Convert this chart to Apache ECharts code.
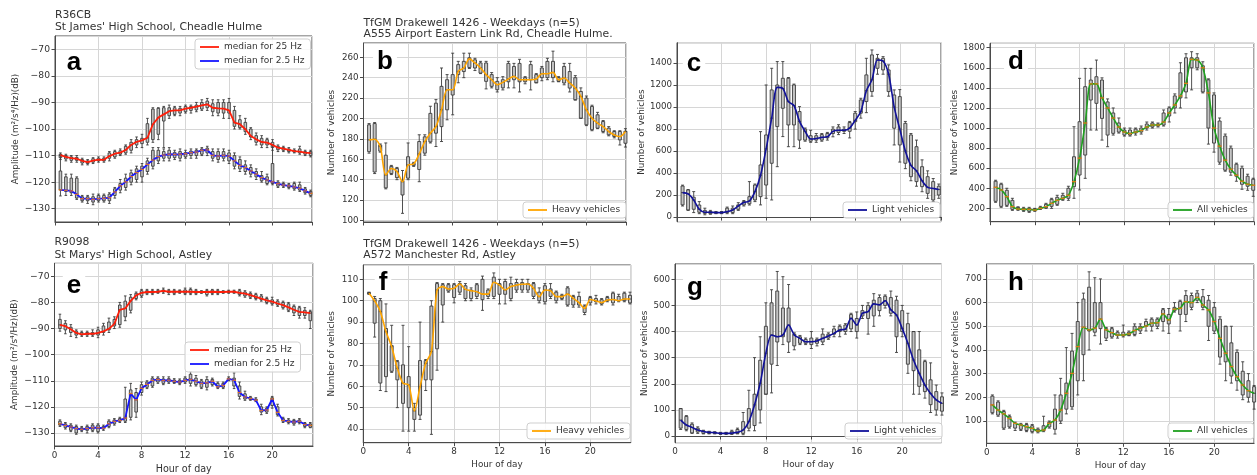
<!DOCTYPE html>
<html><head><meta charset="utf-8">
<script src="https://cdn.jsdelivr.net/npm/echarts@6/dist/echarts.min.js"></script>
<style>html,body{margin:0;padding:0;background:#fff}#c{width:1257px;height:475px}</style>
</head><body><div id="c"></div>
<script>
// ---------- DATA (box stats per half hour: [lower whisker, Q1, median, Q3, upper whisker]) ----------
const hours = [0.5,1,1.5,2,2.5,3,3.5,4,4.5,5,5.5,6,6.5,7,7.5,8,8.5,9,9.5,10,10.5,11,11.5,12,12.5,13,13.5,14,14.5,15,15.5,16,16.5,17,17.5,18,18.5,19,19.5,20,20.5,21,21.5,22,22.5,23,23.5];
const xTicks = [0,4,8,12,16,20];

const a25 = [[-111.5,-110.8,-109.8,-109.5,-109],[-112,-111.3,-110.5,-110,-109.5],[-112.5,-111.8,-111,-110.5,-110],[-112.5,-111.8,-111.2,-110.7,-110],[-113.5,-112.8,-112,-111.5,-111],[-113.5,-113,-112.5,-112,-111.5],[-113,-112.5,-111.9,-111.2,-110.8],[-112.5,-112,-111.5,-111,-110.5],[-112.5,-112,-111.6,-111,-110.5],[-112,-111,-110.2,-109,-108.5],[-111,-110.5,-109.3,-108.5,-108],[-110,-109.5,-108.9,-108.2,-107.5],[-109.5,-109,-107.9,-106.5,-106],[-109,-108,-106,-105,-104],[-107,-106,-104.8,-104,-103],[-107,-105.5,-104.3,-103.5,-102],[-106,-105,-103.3,-98,-96],[-105,-104,-98.2,-92.5,-92],[-104,-102,-95.7,-92.2,-92],[-107,-97,-94.5,-92,-91.5],[-96,-95,-93.3,-92,-91],[-95,-94.5,-93,-92,-91.5],[-95,-94,-93,-92.2,-91.5],[-94,-93.5,-92.3,-91.5,-91],[-94,-93,-92,-91.5,-91],[-93.5,-92.8,-91.6,-91,-90],[-93,-92.5,-91.1,-90,-89],[-93,-92,-90.7,-89.5,-88.5],[-95,-93.5,-92,-90.5,-89],[-95,-94,-92.2,-90,-89],[-96,-94,-92.3,-90,-89],[-96,-94,-93,-90,-88.5],[-100,-99,-97.6,-93,-91.5],[-100,-99.5,-98.2,-96.5,-95],[-102,-101,-100.1,-97.5,-96],[-104,-103,-102.6,-100,-99.5],[-106,-105,-103.9,-102.5,-101.5],[-107,-106,-104.9,-103.5,-102.5],[-107,-106,-105.1,-104,-103.5],[-108,-107,-106,-105,-104],[-108.5,-107.8,-107,-106.5,-106],[-108.5,-108,-107.4,-107,-106.5],[-109,-108.5,-107.9,-107.5,-107],[-109,-108.7,-108.3,-108,-107.5],[-109.5,-109,-108.5,-107.5,-106.5],[-110,-109.5,-108.9,-108.5,-108],[-110.5,-110,-109.1,-108.5,-108]];
const a2_5 = [[-125.2,-122.9,-122.9,-115.8,-110],[-125,-123.5,-123.1,-118,-117],[-125,-124,-123.3,-118.5,-117],[-126.5,-126,-124.6,-118.5,-118],[-127.5,-127,-126.2,-125.5,-125],[-128,-127,-126.2,-125.5,-125],[-128.5,-127.5,-126.5,-125.5,-124.5],[-127.5,-127,-126.2,-125,-124.5],[-127.5,-127,-126.1,-125,-124.5],[-128,-127,-125.8,-124.5,-124],[-126,-125,-123.7,-122.5,-122],[-124,-123,-121.4,-120.5,-119],[-123,-122,-119.9,-118.5,-117],[-121,-120,-117.9,-116.5,-115.5],[-120,-119,-116.4,-115,-114],[-120,-118,-115.2,-114,-113],[-117,-116,-113.3,-112,-111],[-115,-114,-111.7,-108,-107],[-113,-112,-110.4,-108,-107],[-112,-111,-109.8,-108.5,-107.5],[-112,-111,-109.5,-108,-107],[-111.5,-110.8,-109.6,-108.8,-108],[-112,-111,-109.5,-108.5,-107.5],[-111,-110.5,-109.3,-108.8,-108],[-111,-110,-108.9,-108.3,-107.5],[-111,-110,-108.7,-108,-107.5],[-110,-109.5,-108,-107.5,-107],[-110,-109,-107.9,-107.2,-106.5],[-112,-111,-109.9,-108.5,-107.5],[-112.5,-111.5,-110.2,-108.5,-107.5],[-112,-111,-109.9,-108.5,-107.5],[-113,-112,-110.2,-109,-108],[-115,-114,-112,-110,-109],[-116,-115,-113.7,-111.5,-110.5],[-117,-116,-114.5,-113.5,-112],[-118,-117,-115.8,-114.5,-113.5],[-119,-118,-117,-116,-115],[-120,-119.5,-118.3,-117.5,-116],[-121,-120.5,-119.2,-118,-117],[-121,-120.5,-119.9,-113,-106],[-122,-121.5,-120.6,-120,-119.5],[-122,-121.5,-121.1,-120.5,-120],[-122.5,-122,-121.4,-121,-120.5],[-123,-122.5,-121.8,-120.5,-120],[-123.5,-123,-122.3,-121,-120],[-124.5,-124,-123.3,-122.5,-122],[-125.5,-125,-124.2,-123.5,-123]];
const e25 = [[-91,-90,-88.6,-86.5,-84.5],[-92,-90.5,-89.1,-88,-87],[-93,-91.5,-90.3,-89.5,-88.5],[-93.5,-92.5,-91.7,-91,-90.5],[-93,-92.5,-92.2,-91.5,-91],[-93,-92.5,-92,-91.5,-91],[-93,-92.5,-92,-91.5,-90.5],[-93.5,-92.5,-91.7,-90.5,-89.5],[-92.5,-91.5,-91.1,-89,-88],[-91.5,-90.5,-90.1,-87.5,-86],[-90,-89,-88.2,-86.5,-85.5],[-89.5,-88.5,-82.8,-81,-80],[-87,-85.5,-82.3,-79.5,-77.5],[-84,-83,-79.4,-78,-77],[-79,-78.5,-77.3,-76.5,-76],[-78,-77.5,-76.3,-75.5,-75],[-77,-76.5,-76,-75.5,-75],[-77,-76.5,-76,-75.5,-75],[-76.5,-76.2,-75.9,-75.5,-75],[-76.5,-76,-75.6,-75.2,-74.5],[-77,-76.3,-75.9,-75.5,-75],[-77,-76.5,-75.9,-75.5,-75],[-76.5,-76.2,-75.9,-75.5,-75.2],[-77,-76.5,-75.9,-75.2,-74.5],[-77,-76.5,-75.9,-75,-74.5],[-77,-76.5,-76,-75.5,-75],[-76.5,-76.3,-76,-75.7,-75.5],[-77.5,-77,-76,-75.5,-75],[-77,-76.5,-75.9,-75.3,-75],[-77,-76.5,-76,-75.5,-75],[-76.5,-76.3,-76,-75.7,-75.5],[-76.5,-76.2,-75.9,-75.6,-75.3],[-76.5,-76.2,-75.9,-75.6,-75.3],[-77.5,-77,-76.3,-75.5,-75],[-78,-77.5,-76.6,-76,-75.5],[-78.5,-78,-77.2,-76.5,-76],[-79,-78.5,-77.9,-77,-76.5],[-79.5,-79,-78.5,-77.5,-77],[-80.5,-80,-79.2,-78.5,-78],[-81,-80.5,-79.7,-79,-78],[-81.5,-81,-80.4,-79.5,-79],[-82.5,-82,-81,-80,-79.5],[-83.5,-83,-81.9,-80.5,-80],[-85,-84,-82.8,-81.5,-81],[-86,-85,-83.6,-82,-81.5],[-86,-85,-83.8,-83,-82],[-90,-87,-84.1,-83.5,-83]];
const e2_5 = [[-127.5,-127,-126.5,-125.5,-125],[-128.5,-128,-127.1,-126.5,-126],[-129.5,-129,-127.7,-127,-126.5],[-130.5,-130,-128.3,-127.5,-127],[-129.5,-129,-128.6,-128,-127.5],[-130,-129,-128.3,-127.5,-127],[-129.5,-129,-128,-127,-126.5],[-130,-129.5,-128,-127,-126.5],[-129,-128.5,-128.2,-127.5,-127],[-128,-127.5,-126.5,-125.5,-125],[-127,-126.5,-125.6,-125,-124.5],[-126,-125.5,-125.2,-124.5,-124],[-126,-125.5,-124.3,-117,-112.5],[-125,-124,-114.9,-113.5,-111],[-124,-122,-117.3,-114.5,-113],[-115.5,-114.5,-112.9,-111.5,-110.5],[-113,-112.5,-111.4,-110.5,-110],[-112.5,-112,-109.9,-109,-108.5],[-111,-110.5,-109.5,-109,-108.5],[-111.5,-111,-109.9,-109.3,-108.5],[-111,-110.5,-109.8,-109.2,-108.5],[-111,-110.7,-110.2,-109.7,-109.2],[-111.5,-111,-110.5,-109.8,-109.3],[-111,-110.5,-109.9,-109,-108.5],[-112,-111,-109.5,-107.5,-106.5],[-112,-111.5,-110.2,-109,-108],[-113,-112.5,-111,-110,-109.5],[-113.5,-112.5,-110.8,-109.5,-108.5],[-112,-111.5,-110.2,-109.5,-109],[-113,-112.5,-112.3,-111,-110.5],[-113,-112.5,-111.8,-111,-110.5],[-110,-109.8,-109.3,-109,-108.5],[-113,-112,-109.8,-109,-107],[-117,-116,-114.5,-112,-110.5],[-117.5,-117,-116.2,-115,-114],[-117.5,-117.2,-116.8,-116.3,-116],[-118,-117.7,-117.4,-117,-116.5],[-123,-122,-121.4,-120,-119],[-122.5,-122,-121.2,-120.5,-120],[-120.5,-119.5,-117,-116.5,-116],[-123.5,-123,-122.1,-120,-119],[-126,-125.5,-125.2,-124.5,-124],[-126.5,-126,-125.6,-125,-124.5],[-127,-126.5,-125.8,-125.2,-124.8],[-126.5,-126,-125.5,-125,-124.5],[-128,-127.5,-126.8,-126.3,-126],[-128,-127.8,-127.1,-126.5,-126]];
const bHeavy = [[166,167.5,179,193.8,195],[146,147.5,179.7,195,196],[167,168,172.5,174,175],[131,132,144.6,164,176],[145,146,151,153,154],[140,142,148,151,152],[107,125,138,139,149],[140,141.5,154.4,162.5,176],[153,154,155.4,156,157],[138,150,165.2,177.4,184],[164,166,177.4,182,184],[176,177,185.6,205,212],[172.5,185.6,192.1,215,218.5],[177.4,192,208.5,231.5,249.5],[198.7,208.5,228.2,238,243],[203.6,223,228.2,243,264],[235,243,246.2,252.8,256],[240,246,249.5,256,264],[249,250,258.4,259.5,264],[247,249.5,254.4,257.5,259],[244,244.5,249.5,254.5,256],[229,236.4,243,254.4,256],[230,231.5,238,243,245],[226,228.2,233.1,236.4,240],[228,230,235.4,238,241],[230,236,238.7,254,256],[230,238,241.3,251,254],[226,236,238,254,258],[234,236,238,240,241],[228,238,238,252.8,256],[235,235,238.7,243,244],[237,240,243.9,249.5,251],[238,240,243.9,256,259],[236,240,245.2,256,266],[236,236.4,238,240,241],[233,234.8,239.7,251,254],[226,229.8,234.8,246,254],[218,218.4,229.8,240,242],[200,200.3,221.6,226.5,230],[193,193.8,208.5,220,222],[188,189,200.3,211.8,213],[190,190.5,195.4,203.6,206],[186,187.2,192.1,197,198],[183,184,187.2,190.5,192],[181,182.3,183.9,187.2,188],[174,179,182.3,187.2,188],[172,175.7,187.2,187.5,190]];
const cLight = [[100,110,222,282,290],[60,64,210,246,250],[40,70,155,180,231],[30,43,70,109,140],[20,33,43,60,80],[25,30,43,50,60],[30,35,40,45,50],[30,35,40,45,50],[30,40,49,80,90],[30,40,64,80,100],[60,70,100,110,130],[100,110,131,140,150],[109,120,146,185,322],[140,155,231,291,300],[110,185,380,474,777],[170,291,620,747,1202],[155,489,900,1157,1354],[458,823,1180,1202,1415],[732,990,1170,1263,1415],[640,838,1050,1263,1270],[640,838,1015,1202,1210],[625,700,870,960,1005],[690,700,780,800,810],[680,690,710,740,790],[680,700,715,740,760],[690,700,725,750,760],[700,720,730,760,770],[730,760,780,800,820],[750,770,790,820,840],[760,780,790,800,820],[720,780,810,860,870],[800,868,880,945,960],[900,945,960,1066,1081],[950,1051,1150,1294,1445],[1100,1142,1250,1476,1521],[1300,1354,1430,1445,1480],[1300,1339,1420,1445,1460],[1100,1142,1300,1339,1385],[656,808,1000,1111,1157],[500,656,800,1096,1160],[440,489,600,853,870],[330,367,470,747,760],[280,322,420,640,700],[230,276,330,458,520],[170,215,270,367,420],[140,155,260,322,350],[170,200,250,280,300]];
const dAll = [[260,270,409,470,480],[210,220,383,440,450],[220,230,316,380,400],[180,190,217,280,300],[180,190,193,210,215],[170,180,190,200,210],[160,170,190,200,210],[170,180,183,195,200],[190,195,200,210,220],[200,205,217,240,250],[200,220,250,290,300],[230,240,280,310,330],[280,290,300,330,350],[280,300,330,400,420],[300,416,466,714,1013],[383,532,700,1063,1495],[499,731,1050,1412,1594],[980,1279,1440,1478,1594],[980,1246,1440,1511,1677],[880,1096,1300,1478,1500],[814,930,1200,1260,1290],[930,947,1100,1150,1200],[950,960,1010,1050,1100],[920,930,960,980,1000],[920,930,945,980,1000],[930,950,960,990,1000],[940,960,975,1000,1020],[980,1000,1010,1040,1060],[1000,1010,1030,1050,1060],[1010,1020,1030,1040,1050],[1020,1030,1060,1150,1180],[1060,1120,1150,1200,1210],[1150,1200,1230,1320,1340],[1200,1300,1320,1550,1650],[1300,1360,1445,1700,1740],[1380,1600,1684,1700,1760],[1580,1600,1677,1700,1740],[1350,1360,1600,1620,1660],[840,1000,1350,1480,1490],[760,850,1000,1330,1350],[640,660,820,1070,1100],[570,580,680,920,940],[530,560,590,800,820],[470,520,530,640,650],[390,440,470,600,620],[380,420,440,520,540],[320,380,430,490,500]];
const fHeavy = [[103,103.2,103.5,103.8,104],[83,89.5,99.9,101,102],[58,61.5,94.9,100,101],[57.5,64.5,85.5,87,98.5],[66.5,67,78.5,79,88.5],[50,63,68.4,71.5,72],[39,52,61.4,70,88.5],[39,50,60.6,64.5,78.5],[39,44.5,48.5,50,52],[44.5,46.5,59.8,72,90],[58,63,70.7,72,72.5],[37.5,63,76.2,97.5,100],[67.5,77.5,105,108,108.5],[90,98,106.6,107.5,108],[104,104.5,105.5,107.5,108],[99,101.5,105.8,107.5,108],[103,104,107.8,108,109],[100,101,105.3,107,108],[100,101,104.7,105,106],[101,102,104.2,107.5,108],[95.5,100.5,103.1,110,111.5],[101,102,103.1,105,105.5],[101,102,108.6,111,113],[98.5,103,107.3,108,110],[98.5,103,105,109,110],[100,101,106.6,108,111],[104,105,107.3,108.5,110],[104,105,107.7,108.5,110],[104,105,107.8,108,110],[101,102,105.8,108,108.5],[99,100,101.9,104,106],[98.5,99.5,105,107,108],[101,102,104.7,105.5,108],[99,100,101.9,104,104.5],[100.5,101,101.9,102.5,103],[97.5,98,103.1,106,106.5],[97,98,101.1,102,102.5],[97,98,99.1,102,104],[93.5,94.5,96.4,97.5,98],[98,99,100.6,101.5,102],[98.5,99.5,99.9,101,102.5],[98,98.5,99.1,100.5,101],[99.5,100,100.3,101.5,102],[98,99,100.6,103.5,104],[99.5,100,100,102,103],[99.5,100,100.8,103.5,104],[98.5,99,100.8,102.5,104]];
const gLight = [[25,30,61,105,105],[20,25,42,75,78],[10,12,33,45,50],[10,15,23,30,35],[8,10,17,20,22],[8,10,14,16,18],[8,10,13,15,16],[6,8,10,12,14],[6,8,10,12,14],[6,8,11,18,22],[8,10,14,25,30],[5,10,23,55,90],[20,30,55,105,175],[20,40,119,160,300],[50,100,202,290,380],[160,160,317,420,510],[165,275,387,510,560],[270,360,380,555,630],[350,380,387,490,610],[320,360,425,490,580],[330,345,387,390,395],[350,355,374,380,385],[350,355,361,370,375],[335,350,361,375,400],[345,355,364,370,375],[350,360,374,390,410],[370,375,383,390,395],[380,390,393,410,420],[380,400,406,420,425],[390,400,409,425,430],[400,410,451,465,470],[375,400,425,450,475],[450,460,470,480,500],[390,450,476,500,510],[420,460,506,520,545],[460,480,502,530,540],[490,500,518,535,540],[460,470,483,530,555],[320,380,463,520,535],[380,400,412,480,500],[240,275,355,430,470],[160,250,291,400,400],[160,190,240,330,400],[145,170,195,285,290],[90,120,163,215,280],[80,100,138,170,195],[80,95,125,150,165]];
const hAll = [[130,135,168,205,210],[120,125,146,180,185],[65,70,130,140,145],[70,75,111,120,125],[60,70,90,90,95],[60,65,83,85,90],[55,60,76,85,90],[50,55,69,80,85],[50,55,58,65,70],[55,60,62,80,120],[70,75,90,95,100],[45,65,104,150,210],[90,100,146,210,280],[130,150,217,260,410],[150,160,301,395,470],[210,270,414,520,600],[270,380,496,615,640],[400,480,485,665,730],[460,475,492,600,705],[425,490,530,600,700],[440,450,485,490,495],[450,455,473,490,495],[450,460,463,475,480],[455,460,463,475,505],[460,462,468,475,480],[460,465,482,500,510],[470,480,492,500,510],[480,500,501,520,530],[480,500,513,530,535],[490,500,515,530,535],[480,520,552,570,575],[470,510,527,550,575],[560,565,572,580,600],[480,550,576,605,610],[520,550,604,630,650],[570,580,600,630,640],[600,610,622,640,650],[570,580,590,625,655],[440,500,569,610,630],[470,480,520,580,600],[340,370,449,530,540],[270,350,386,500,500],[260,290,330,430,500],[230,270,287,390,400],[190,210,252,310,350],[180,200,228,270,300],[150,180,217,245,250]];

// ---------- LAYOUT / STYLE ----------
const FONT = '"DejaVu Sans", sans-serif';
const AMP = 'Amplitude (m²/s⁴/Hz)(dB)';
const NV = 'Number of vehicles';
const MEDC = '#ff7f0e';
const panels = [
  {letter:'a', g:[55,36,257,186], xmax:23.63, y:[-135,-65,10,5], yname:AMP, gap:35, bottom:false,
   series:[{name:'median for 25 Hz', d:a25, c:'#ff1e0a', w:1.8, s:false, m:false},{name:'median for 2.5 Hz', d:a2_5, c:'#1616ff', w:1.8, s:false, m:true}],
   leg:[195,39], lt:[74,63], title:['R36CB','St James\' High School, Cheadle Hulme'], ty:[15,27], bw:2.6},
  {letter:'b', g:[363.5,43,262.5,179], xmax:23.55, y:[98.5,274,20,8], yname:NV, gap:27, bottom:false,
   series:[{name:'Heavy vehicles', d:bHeavy, c:'#ffa500', w:1.6, s:0.3, m:false}],
   leg:[523,202], lt:[385,62], title:['TfGM Drakewell 1426 - Weekdays (n=5)','A555 Airport Eastern Link Rd, Cheadle Hulme.'], ty:[23,34.5], bw:3},
  {letter:'c', g:[677,42.7,264,179], xmax:23.7, y:[-43,1587,200,8], yname:NV, gap:31, bottom:false,
   series:[{name:'Light vehicles', d:cLight, c:'#11119a', w:1.6, s:0.3, m:false}],
   leg:[843,202], lt:[694,64], title:null, bw:3},
  {letter:'d', g:[990,43.3,264,178.4], xmax:23.57, y:[67,1844,200,8], yname:NV, gap:31, bottom:false,
   series:[{name:'All vehicles', d:dAll, c:'#1fa01f', w:1.6, s:0.3, m:true}],
   leg:[1168,202], lt:[1016,62], title:null, bw:3},
  {letter:'e', g:[54.5,263.3,258.5,186], xmax:23.75, y:[-135,-65,10,5], yname:AMP, gap:35, bottom:true,
   series:[{name:'median for 25 Hz', d:e25, c:'#ff1e0a', w:1.8, s:false, m:false},{name:'median for 2.5 Hz', d:e2_5, c:'#1616ff', w:1.8, s:false, m:true}],
   leg:[185,342], lt:[74,286], title:['R9098','St Marys\' High School, Astley'], ty:[242,255], bw:2.6},
  {letter:'f', g:[363.3,265,267.4,177.7], xmax:23.56, y:[33.6,116.7,10,8], yname:NV, gap:27, bottom:true,
   series:[{name:'Heavy vehicles', d:fHeavy, c:'#ffa500', w:1.6, s:0.3, m:false}],
   leg:[527,423], lt:[383,283], title:['TfGM Drakewell 1426 - Weekdays (n=5)','A572 Manchester Rd, Astley'], ty:[244,255.5], bw:3},
  {letter:'g', g:[675,264,266.5,178.7], xmax:23.46, y:[-25.7,658.6,100,7], yname:NV, gap:24, bottom:true,
   series:[{name:'Light vehicles', d:gLight, c:'#11119a', w:1.6, s:0.3, m:false}],
   leg:[845,423], lt:[695,288], title:null, bw:3},
  {letter:'h', g:[986.7,264,267.3,179.3], xmax:23.49, y:[5.8,763,100,7], yname:NV, gap:26, bottom:true,
   series:[{name:'All vehicles', d:hAll, c:'#1fa01f', w:1.6, s:0.3, m:true}],
   leg:[1168,423], lt:[1016,283], title:null, bw:3}
];

const grid=[], xAxis=[], yAxis=[], series=[], legend=[], graphic=[];
const minus = v => String(v).replace('-', '\u2212');
panels.forEach((p, gi) => {
  grid.push({left:p.g[0], top:p.g[1], width:p.g[2], height:p.g[3], show:true, borderColor:'#4a4a4a', borderWidth:1, backgroundColor:'transparent', containLabel:false});
  yAxis.push({type:'value', gridIndex:gi, min:p.y[0], max:p.y[1], minInterval:p.y[2], maxInterval:p.y[2], splitNumber:p.y[3],
    name:p.yname, nameLocation:'middle', nameGap:p.gap, nameRotate:90,
    nameTextStyle:{fontFamily:FONT, fontSize:8.8, color:'#333'},
    axisLine:{show:true, lineStyle:{color:'#4a4a4a'}}, axisTick:{show:true, length:3.5, lineStyle:{color:'#4a4a4a'}},
    axisLabel:{fontFamily:FONT, fontSize:p.letter==='e'||p.letter==='a'?9.2:8.7, color:'#333', margin:5, showMinLabel:false, showMaxLabel:false, formatter:minus},
    splitLine:{show:true, lineStyle:{color:'#d6d6d6', width:1}}});
  const xIdx = [];
  p.series.forEach((s, k) => {
    const xi = xAxis.length; xIdx.push(xi);
    xAxis.push({type:'value', gridIndex:gi, min:0, max:p.xmax, interval:xTicks[1]-xTicks[0], show:k===0,
      name:(p.bottom&&k===0)?'Hour of day':'', nameLocation:'middle', nameGap:18,
      nameTextStyle:{fontFamily:FONT, fontSize:p.letter==='e'?9.6:8.8, color:'#333'},
      axisLine:{show:true, lineStyle:{color:'#4a4a4a'}}, axisTick:{show:true, length:3.5, lineStyle:{color:'#4a4a4a'}},
      axisLabel:{show:p.bottom, fontFamily:FONT, fontSize:8.8, color:'#333', margin:5, showMaxLabel:false},
      splitLine:{show:true, lineStyle:{color:'#d6d6d6', width:1}}});
    series.push({type:'boxplot', xAxisIndex:xi, yAxisIndex:gi, silent:true, animation:false,
      boxWidth:[p.bw,p.bw], itemStyle:{color:'#c4c4c4', borderColor:'#3c3c3c', borderWidth:0.9},
      emphasis:{disabled:true}, z:2,
      data:hours.map((h,i)=>[h].concat(s.d[i]))});
  });
  p.series.forEach((s, k) => {
    series.push({type:'line', name:s.name, xAxisIndex:xIdx[k], yAxisIndex:gi, symbol:'none', smooth:s.s, silent:true, animation:false,
      lineStyle:{color:s.c, width:s.w}, itemStyle:{color:s.c}, emphasis:{disabled:true}, z:3,
      data:hours.map((h,i)=>[h, s.d[i][2]])});
    if (s.m) {
      series.push({type:'scatter', xAxisIndex:xIdx[k], yAxisIndex:gi, silent:true, animation:false,
        symbol:'rect', symbolSize:[p.bw+1.2, 1.3], itemStyle:{color:MEDC}, emphasis:{disabled:true}, z:4,
        data:hours.map((h,i)=>[h, s.d[i][2]])});
    }
  });
  legend.push({left:p.leg[0], top:p.leg[1], orient:'vertical', data:p.series.map(s=>s.name), selectedMode:false,
    icon:'rect', backgroundColor:'rgba(255,255,255,0.85)', borderColor:'#cfcfcf', borderWidth:1, borderRadius:3,
    padding:[3,6,3,5], itemGap:4, itemWidth:19, itemHeight:1.8,
    textStyle:{fontFamily:FONT, fontSize:9, color:'#333', lineHeight:10}});
  graphic.push({type:'text', x:p.lt[0], y:p.lt[1], z:100,
    style:{text:p.letter, font:'bold 26px "Liberation Sans", Arial, sans-serif', fill:'#000', align:'center', verticalAlign:'middle', backgroundColor:'#fff', padding:[0,4]}});
  if (p.title) {
    p.title.forEach((t, j) => graphic.push({type:'text', x:p.g[0], y:p.ty[j], z:100,
      style:{text:t, font:'10.8px "DejaVu Sans", sans-serif', fill:'#333', align:'left', verticalAlign:'middle'}}));
  }
});

const chart = echarts.init(document.getElementById('c'), null, {renderer:'canvas'});
chart.setOption({backgroundColor:'#fff', animation:false, grid, xAxis, yAxis, series, legend, graphic});
</script></body></html>
